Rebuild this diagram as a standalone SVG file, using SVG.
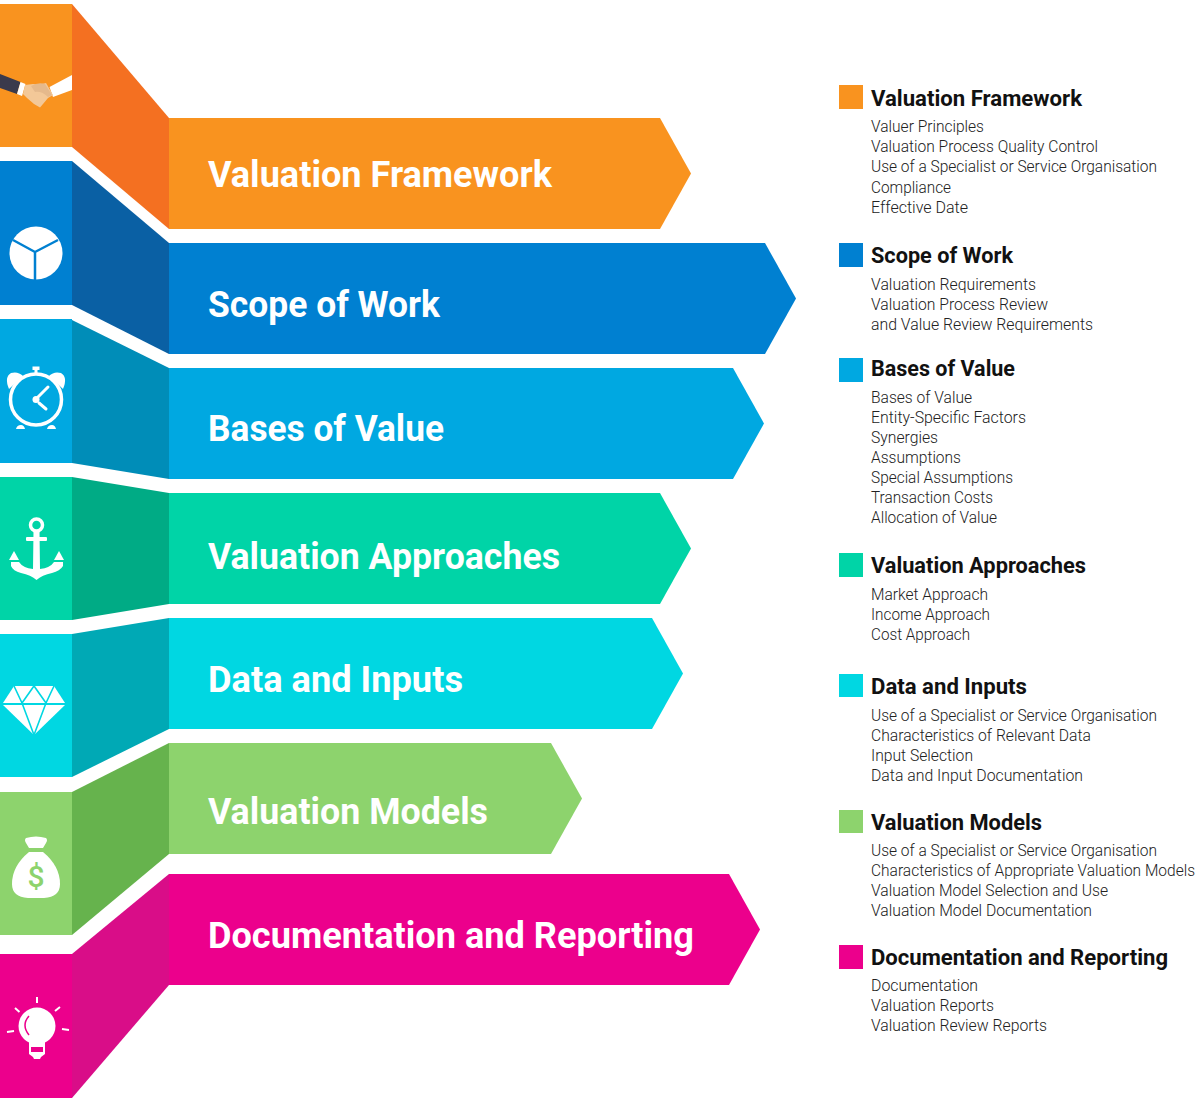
<svg xmlns="http://www.w3.org/2000/svg" width="1200" height="1104" viewBox="0 0 1200 1104">
<style>
text{font-family:"Roboto","Noto Sans","Liberation Sans",sans-serif}
.t{font-size:36px;font-weight:700;fill:#fff}
.h{font-size:22px;font-weight:700;fill:#111}
.i{font-size:17px;font-weight:300;fill:#222}
.w{fill:#fff}
.orange{fill:#f9931f}.orangeS{fill:#f47021}
.blue{fill:#0080d1}.blueS{fill:#0a60a4}
.sky{fill:#00a8e1}.skyS{fill:#008db8}
.green{fill:#00d4a7}.greenS{fill:#00ab85}
.teal{fill:#00d7e2}.tealS{fill:#00a9b5}
.lime{fill:#8dd36d}.limeS{fill:#66b34d}
.pink{fill:#ec008c}.pinkS{fill:#d90d88}
</style>
<rect width="1200" height="1104" fill="#fff"/>
<g id="band-framework">
<rect class="orange" x="0" y="4" width="72" height="143"/>
<polygon class="orangeS" points="72,4 169,118 169,229 72,147"/>
<polygon class="orange" points="169,118 660,118 691,173.500 660,229 169,229"/>
<polygon fill="#3a3a4c" points="0,74 20.500,82 17,94 0,88"/>
<polygon class="w" points="20.500,82 25.500,84 22,96 17,94"/>
<polygon class="w" points="49.500,87 72,75 72,90 53,97"/>
<path fill="#f3c898" d="M25,85 L33,84 Q40,85 46,83 L53,95 L48,98 L43,104 L40,107.500 L34,104 L27,98 L23,94Z"/>
<path fill="#e5b98c" d="M31,86 Q38,82 45,84 L52,95 L48,97 Q42,91 35,92Z"/>
<text class="t" x="208" y="187" textLength="344" lengthAdjust="spacingAndGlyphs">Valuation Framework</text>
</g>
<g id="band-scope">
<rect class="blue" x="0" y="161" width="72" height="144"/>
<polygon class="blueS" points="72,161 169,243 169,354 72,305"/>
<polygon class="blue" points="169,243 765,243 796,298.500 765,354 169,354"/>
<circle class="w" cx="36" cy="253" r="26.500"/>
<path fill="none" stroke="#0080d1" stroke-width="2.500" d="M35,252 V281 M35,252 L13,240 M35,252 L58,240"/>
<text class="t" x="208" y="317" textLength="232" lengthAdjust="spacingAndGlyphs">Scope of Work</text>
</g>
<g id="band-bases">
<rect class="sky" x="0" y="319" width="72" height="144"/>
<polygon class="skyS" points="72,320 169,368 169,479 72,463"/>
<polygon class="sky" points="169,368 733,368 764,423.500 733,479 169,479"/>
<circle cx="36" cy="399.500" r="25.500" fill="none" stroke="#fff" stroke-width="3.500"/>
<path class="w" d="M34.500,373 V370 H32.500 V366.500 H39.500 V370 H37.500 V373Z"/>
<path class="w" d="M9,389 Q4,377 11,373 Q18,371 23,376Z M63,389 Q68,377 61,373 Q54,371 49,376Z"/>
<path class="w" d="M16,429 Q17,425 21,425 Q24,425 25,429Z M47,429 Q48,425 52,425 Q55,425 56,429Z"/>
<circle class="w" cx="36" cy="399.500" r="3.500"/>
<path fill="none" stroke="#fff" stroke-width="3" stroke-linecap="round" d="M38,397 L48,387 M39,403 L46,409"/>
<text class="t" x="208" y="441" textLength="236" lengthAdjust="spacingAndGlyphs">Bases of Value</text>
</g>
<g id="band-approaches">
<rect class="green" x="0" y="477" width="72" height="143"/>
<polygon class="greenS" points="72,477 169,493 169,604 72,620"/>
<polygon class="green" points="169,493 660,493 691,548.500 660,604 169,604"/>
<circle cx="36.500" cy="525" r="6" fill="none" stroke="#fff" stroke-width="3.500"/>
<rect class="w" x="26" y="537" width="21" height="4" rx="1"/>
<path class="w" d="M33.500,531 H39.500 L40,569 Q50,568 54,562 H63 V566 Q60,571 52,573 Q42,575 36.500,580 Q31,575 21,573 Q13,571 11,566 V562 H19 Q23,568 33,569Z"/>
<polygon class="w" points="9,560 14,551 19,560"/>
<polygon class="w" points="54,560 59,551 64,560"/>
<text class="t" x="208" y="569" textLength="352" lengthAdjust="spacingAndGlyphs">Valuation Approaches</text>
</g>
<g id="band-data">
<rect class="teal" x="0" y="634" width="72" height="143"/>
<polygon class="tealS" points="72,634 169,618 169,729 72,777"/>
<polygon class="teal" points="169,618 652,618 683,673.500 652,729 169,729"/>
<polygon class="w" points="14,686 54,686 65,703 3,703"/>
<polygon class="w" points="3,705 65,705 34,735"/>
<path fill="none" stroke="#00d7e2" stroke-width="1.600" d="M14,686 L22,703 L34,735 L46,703 L54,686 M22,703 L34,686 L46,703"/>
<text class="t" x="208" y="692" textLength="255" lengthAdjust="spacingAndGlyphs">Data and Inputs</text>
</g>
<g id="band-models">
<rect class="lime" x="0" y="792" width="72" height="143"/>
<polygon class="limeS" points="72,792 169,743 169,854 72,935"/>
<polygon class="lime" points="169,743 551,743 582,798.500 551,854 169,854"/>
<path class="w" d="M26,838 Q36,835 46,838 Q48,840 46,843 L43,848 H29 L26,843 Q24,840 26,838Z"/>
<path class="w" d="M29,852 H43 Q60,866 60,884 Q60,897 44,898 H28 Q12,897 12,884 Q12,866 29,852Z"/>
<text x="36" y="887" text-anchor="middle" style="font-size:30px;font-weight:500;fill:#8dd36d">$</text>
<text class="t" x="208" y="824" textLength="280" lengthAdjust="spacingAndGlyphs">Valuation Models</text>
</g>
<g id="band-documentation">
<rect class="pink" x="0" y="954" width="72" height="144"/>
<polygon class="pinkS" points="72,954 169,874 169,985 72,1098"/>
<polygon class="pink" points="169,874 729,874 760,929.500 729,985 169,985"/>
<circle class="w" cx="37" cy="1026" r="18.500"/>
<path class="w" d="M29,1040 H45 V1054 L41,1057 L40,1059 H34 L33,1057 L29,1054Z"/>
<rect class="pink" x="31" y="1047" width="12" height="5"/>
<path fill="none" stroke="#ec008c" stroke-width="1.500" d="M29,1016 Q21,1025 29,1035"/>
<path fill="none" stroke="#fff" stroke-width="2" d="M37,997 V1003 M15,1008 L19.500,1012 M60,1007 L55,1011 M7,1032 L14,1031 M62,1029 L69,1030"/>
<text class="t" x="208" y="948" textLength="486" lengthAdjust="spacingAndGlyphs">Documentation and Reporting</text>
</g>
<g id="legend-framework">
<rect class="orange" x="839" y="85" width="24" height="24"/>
<text class="h" x="871" y="106" textLength="211" lengthAdjust="spacingAndGlyphs">Valuation Framework</text>
<text class="i" x="871" y="132" textLength="113" lengthAdjust="spacingAndGlyphs">Valuer Principles</text>
<text class="i" x="871" y="152" textLength="227" lengthAdjust="spacingAndGlyphs">Valuation Process Quality Control</text>
<text class="i" x="871" y="172" textLength="286" lengthAdjust="spacingAndGlyphs">Use of a Specialist or Service Organisation</text>
<text class="i" x="871" y="193" textLength="80" lengthAdjust="spacingAndGlyphs">Compliance</text>
<text class="i" x="871" y="213" textLength="97" lengthAdjust="spacingAndGlyphs">Effective Date</text>
</g>
<g id="legend-scope">
<rect class="blue" x="839" y="243" width="24" height="24"/>
<text class="h" x="871" y="263" textLength="142" lengthAdjust="spacingAndGlyphs">Scope of Work</text>
<text class="i" x="871" y="290" textLength="165" lengthAdjust="spacingAndGlyphs">Valuation Requirements</text>
<text class="i" x="871" y="310" textLength="177" lengthAdjust="spacingAndGlyphs">Valuation Process Review</text>
<text class="i" x="871" y="330" textLength="222" lengthAdjust="spacingAndGlyphs">and Value Review Requirements</text>
</g>
<g id="legend-bases">
<rect class="sky" x="839" y="358" width="24" height="24"/>
<text class="h" x="871" y="376" textLength="144" lengthAdjust="spacingAndGlyphs">Bases of Value</text>
<text class="i" x="871" y="403" textLength="101" lengthAdjust="spacingAndGlyphs">Bases of Value</text>
<text class="i" x="871" y="423" textLength="155" lengthAdjust="spacingAndGlyphs">Entity-Specific Factors</text>
<text class="i" x="871" y="443" textLength="67" lengthAdjust="spacingAndGlyphs">Synergies</text>
<text class="i" x="871" y="463" textLength="90" lengthAdjust="spacingAndGlyphs">Assumptions</text>
<text class="i" x="871" y="483" textLength="142" lengthAdjust="spacingAndGlyphs">Special Assumptions</text>
<text class="i" x="871" y="503" textLength="122" lengthAdjust="spacingAndGlyphs">Transaction Costs</text>
<text class="i" x="871" y="523" textLength="126" lengthAdjust="spacingAndGlyphs">Allocation of Value</text>
</g>
<g id="legend-approaches">
<rect class="green" x="839" y="553" width="24" height="24"/>
<text class="h" x="871" y="573" textLength="215" lengthAdjust="spacingAndGlyphs">Valuation Approaches</text>
<text class="i" x="871" y="600" textLength="117" lengthAdjust="spacingAndGlyphs">Market Approach</text>
<text class="i" x="871" y="620" textLength="119" lengthAdjust="spacingAndGlyphs">Income Approach</text>
<text class="i" x="871" y="640" textLength="99" lengthAdjust="spacingAndGlyphs">Cost Approach</text>
</g>
<g id="legend-data">
<rect class="teal" x="839" y="674" width="24" height="23"/>
<text class="h" x="871" y="694" textLength="156" lengthAdjust="spacingAndGlyphs">Data and Inputs</text>
<text class="i" x="871" y="721" textLength="286" lengthAdjust="spacingAndGlyphs">Use of a Specialist or Service Organisation</text>
<text class="i" x="871" y="741" textLength="220" lengthAdjust="spacingAndGlyphs">Characteristics of Relevant Data</text>
<text class="i" x="871" y="761" textLength="102" lengthAdjust="spacingAndGlyphs">Input Selection</text>
<text class="i" x="871" y="781" textLength="212" lengthAdjust="spacingAndGlyphs">Data and Input Documentation</text>
</g>
<g id="legend-models">
<rect class="lime" x="839" y="810" width="24" height="23"/>
<text class="h" x="871" y="830" textLength="171" lengthAdjust="spacingAndGlyphs">Valuation Models</text>
<text class="i" x="871" y="856" textLength="286" lengthAdjust="spacingAndGlyphs">Use of a Specialist or Service Organisation</text>
<text class="i" x="871" y="876" textLength="324" lengthAdjust="spacingAndGlyphs">Characteristics of Appropriate Valuation Models</text>
<text class="i" x="871" y="896" textLength="237" lengthAdjust="spacingAndGlyphs">Valuation Model Selection and Use</text>
<text class="i" x="871" y="916" textLength="221" lengthAdjust="spacingAndGlyphs">Valuation Model Documentation</text>
</g>
<g id="legend-documentation">
<rect class="pink" x="839" y="945" width="24" height="24"/>
<text class="h" x="871" y="965" textLength="297" lengthAdjust="spacingAndGlyphs">Documentation and Reporting</text>
<text class="i" x="871" y="991" textLength="107" lengthAdjust="spacingAndGlyphs">Documentation</text>
<text class="i" x="871" y="1011" textLength="123" lengthAdjust="spacingAndGlyphs">Valuation Reports</text>
<text class="i" x="871" y="1031" textLength="176" lengthAdjust="spacingAndGlyphs">Valuation Review Reports</text>
</g>
</svg>
